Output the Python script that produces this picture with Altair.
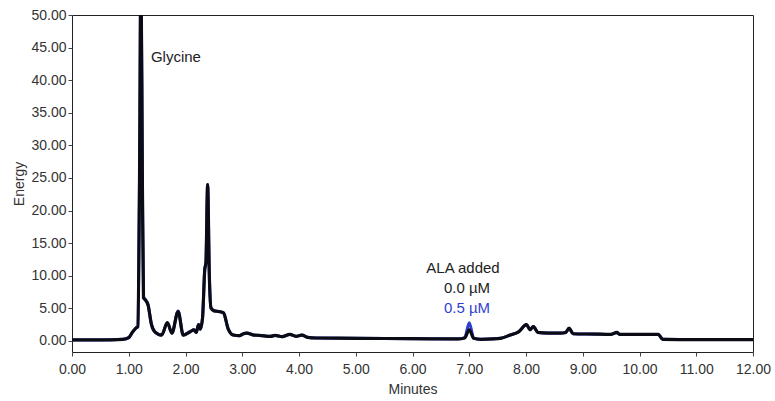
import altair as alt
import pandas as pd

minutes = [0.0, 0.5, 0.9, 1.0, 1.07, 1.13, 1.16, 1.19, 1.215, 1.24, 1.26, 1.29, 1.34, 1.40, 1.46,
           1.58, 1.68, 1.76, 1.87, 1.96, 2.08, 2.15, 2.19, 2.23, 2.26, 2.30, 2.34, 2.36, 2.39,
           2.42, 2.45, 2.5, 2.6, 2.67, 2.75, 2.84, 2.95, 3.02, 3.08, 3.2, 3.3, 3.5, 3.58, 3.7,
           3.84, 3.95, 4.05, 4.15, 4.3, 5.0, 6.0, 6.8, 6.92, 7.0, 7.08, 7.2, 7.4, 7.55, 7.72,
           7.87, 8.01, 8.07, 8.13, 8.21, 8.4, 8.6, 8.7, 8.76, 8.83, 9.2, 9.5, 9.6, 9.65, 10.0,
           10.33, 10.41, 11.0, 12.0]
energy_0uM = [0.15, 0.15, 0.25, 0.5, 1.4, 2.0, 2.2, 25, 58, 25, 6.6, 6.3, 5.5, 2.5, 1.4,
              0.9, 2.8, 1.2, 4.5, 0.9, 1.4, 1.7, 1.3, 2.5, 1.8, 3.5, 11, 12, 24,
              10, 5.0, 4.6, 4.5, 4.3, 1.9, 0.9, 0.8, 1.1, 1.2, 0.9, 0.85, 0.7, 0.85, 0.65,
              1.0, 0.7, 0.9, 0.55, 0.45, 0.4, 0.35, 0.3, 0.45, 1.7, 0.4, 0.25, 0.3, 0.4, 0.9,
              1.4, 2.5, 1.7, 2.2, 1.3, 1.2, 1.2, 1.3, 1.95, 1.1, 1.05, 1.0, 1.3, 1.0, 1.0,
              1.0, 0.25, 0.2, 0.2]
energy_05uM = [0.15, 0.15, 0.25, 0.5, 1.4, 2.0, 2.2, 25, 58, 25, 6.8, 6.4, 5.6, 2.6, 1.4,
               0.9, 2.8, 1.2, 4.6, 0.9, 1.4, 1.7, 1.3, 2.5, 1.8, 3.5, 11, 12, 24,
               10, 5.1, 4.7, 4.5, 4.3, 1.9, 0.9, 0.8, 1.1, 1.2, 0.9, 0.85, 0.7, 0.85, 0.65,
               1.0, 0.7, 0.9, 0.55, 0.45, 0.4, 0.35, 0.3, 0.5, 2.8, 0.4, 0.25, 0.3, 0.4, 0.9,
               1.4, 2.5, 1.7, 2.2, 1.3, 1.2, 1.2, 1.3, 1.95, 1.1, 1.05, 1.0, 1.3, 1.0, 1.0,
               1.0, 0.25, 0.2, 0.2]
series_names = ["0.5 µM", "0.0 µM"]
x_ticks = list(range(0, 13))
y_ticks = list(range(0, 55, 5))

df_blue = pd.DataFrame({"Minutes": minutes, "Energy": energy_05uM, "series": series_names[0]})
df_black = pd.DataFrame({"Minutes": minutes, "Energy": energy_0uM, "series": series_names[1]})

FONT = "Liberation Sans"
BLACK = "#0b0b14"
BLUE = "#2f3fd0"

x_scale = alt.Scale(domain=[0, 12], nice=False)
y_scale = alt.Scale(domain=[-1.7, 50], nice=False, zero=False)
x_axis = alt.Axis(values=x_ticks, format=".2f", title="Minutes", grid=False,
                  domain=False, tickSize=4, tickColor="#444", labelPadding=6,
                  titlePadding=6, labelOverlap=False, labelFlush=False)
y_axis = alt.Axis(values=y_ticks, format=".2f", title="Energy", grid=False,
                  domain=False, tickSize=4, tickColor="#444", labelPadding=2,
                  titlePadding=4, labelOverlap=False, labelFlush=False)

x_enc = alt.X("Minutes:Q", scale=x_scale, axis=x_axis)
y_enc = alt.Y("Energy:Q", scale=y_scale, axis=y_axis)

blue_line = alt.Chart(df_blue).mark_line(
    color=BLUE, strokeWidth=3, clip=True, interpolate="monotone"
).encode(x=x_enc, y=y_enc)

black_line = alt.Chart(df_black).mark_line(
    color=BLACK, strokeWidth=3.2, clip=True, interpolate="monotone"
).encode(x=x_enc, y=y_enc)


def label(text, xm, ye, align, color):
    return alt.Chart().mark_text(align=align, baseline="middle", fontSize=15, font=FONT,
                                 color=color).encode(
        x=alt.XDatum(xm, type="quantitative", scale=x_scale, axis=x_axis),
        y=alt.YDatum(ye, type="quantitative", scale=y_scale, axis=y_axis),
        text=alt.value(text))


glycine = label("Glycine", 1.39, 43.6, "left", "#222")
ala = label("ALA added", 6.89, 11.2, "center", "#222")
c0 = label(series_names[1], 6.96, 8.1, "center", "#222")
c5 = label(series_names[0], 6.96, 5.0, "center", BLUE)

chart = alt.layer(blue_line, black_line, glycine, ala, c0, c5).properties(
    width=681, height=337,
    autosize=alt.AutoSizeParams(type="none"),
    padding={"left": 72, "top": 15, "right": 22, "bottom": 49},
    background="white",
).configure_view(
    stroke="#222", strokeWidth=1
).configure_axis(
    labelFont=FONT, titleFont=FONT, labelFontSize=14, titleFontSize=14,
    labelColor="#333", titleColor="#333", labelFontWeight="normal", titleFontWeight="normal"
)

chart.save("out.html", embed_options={"renderer": "svg", "actions": False})
